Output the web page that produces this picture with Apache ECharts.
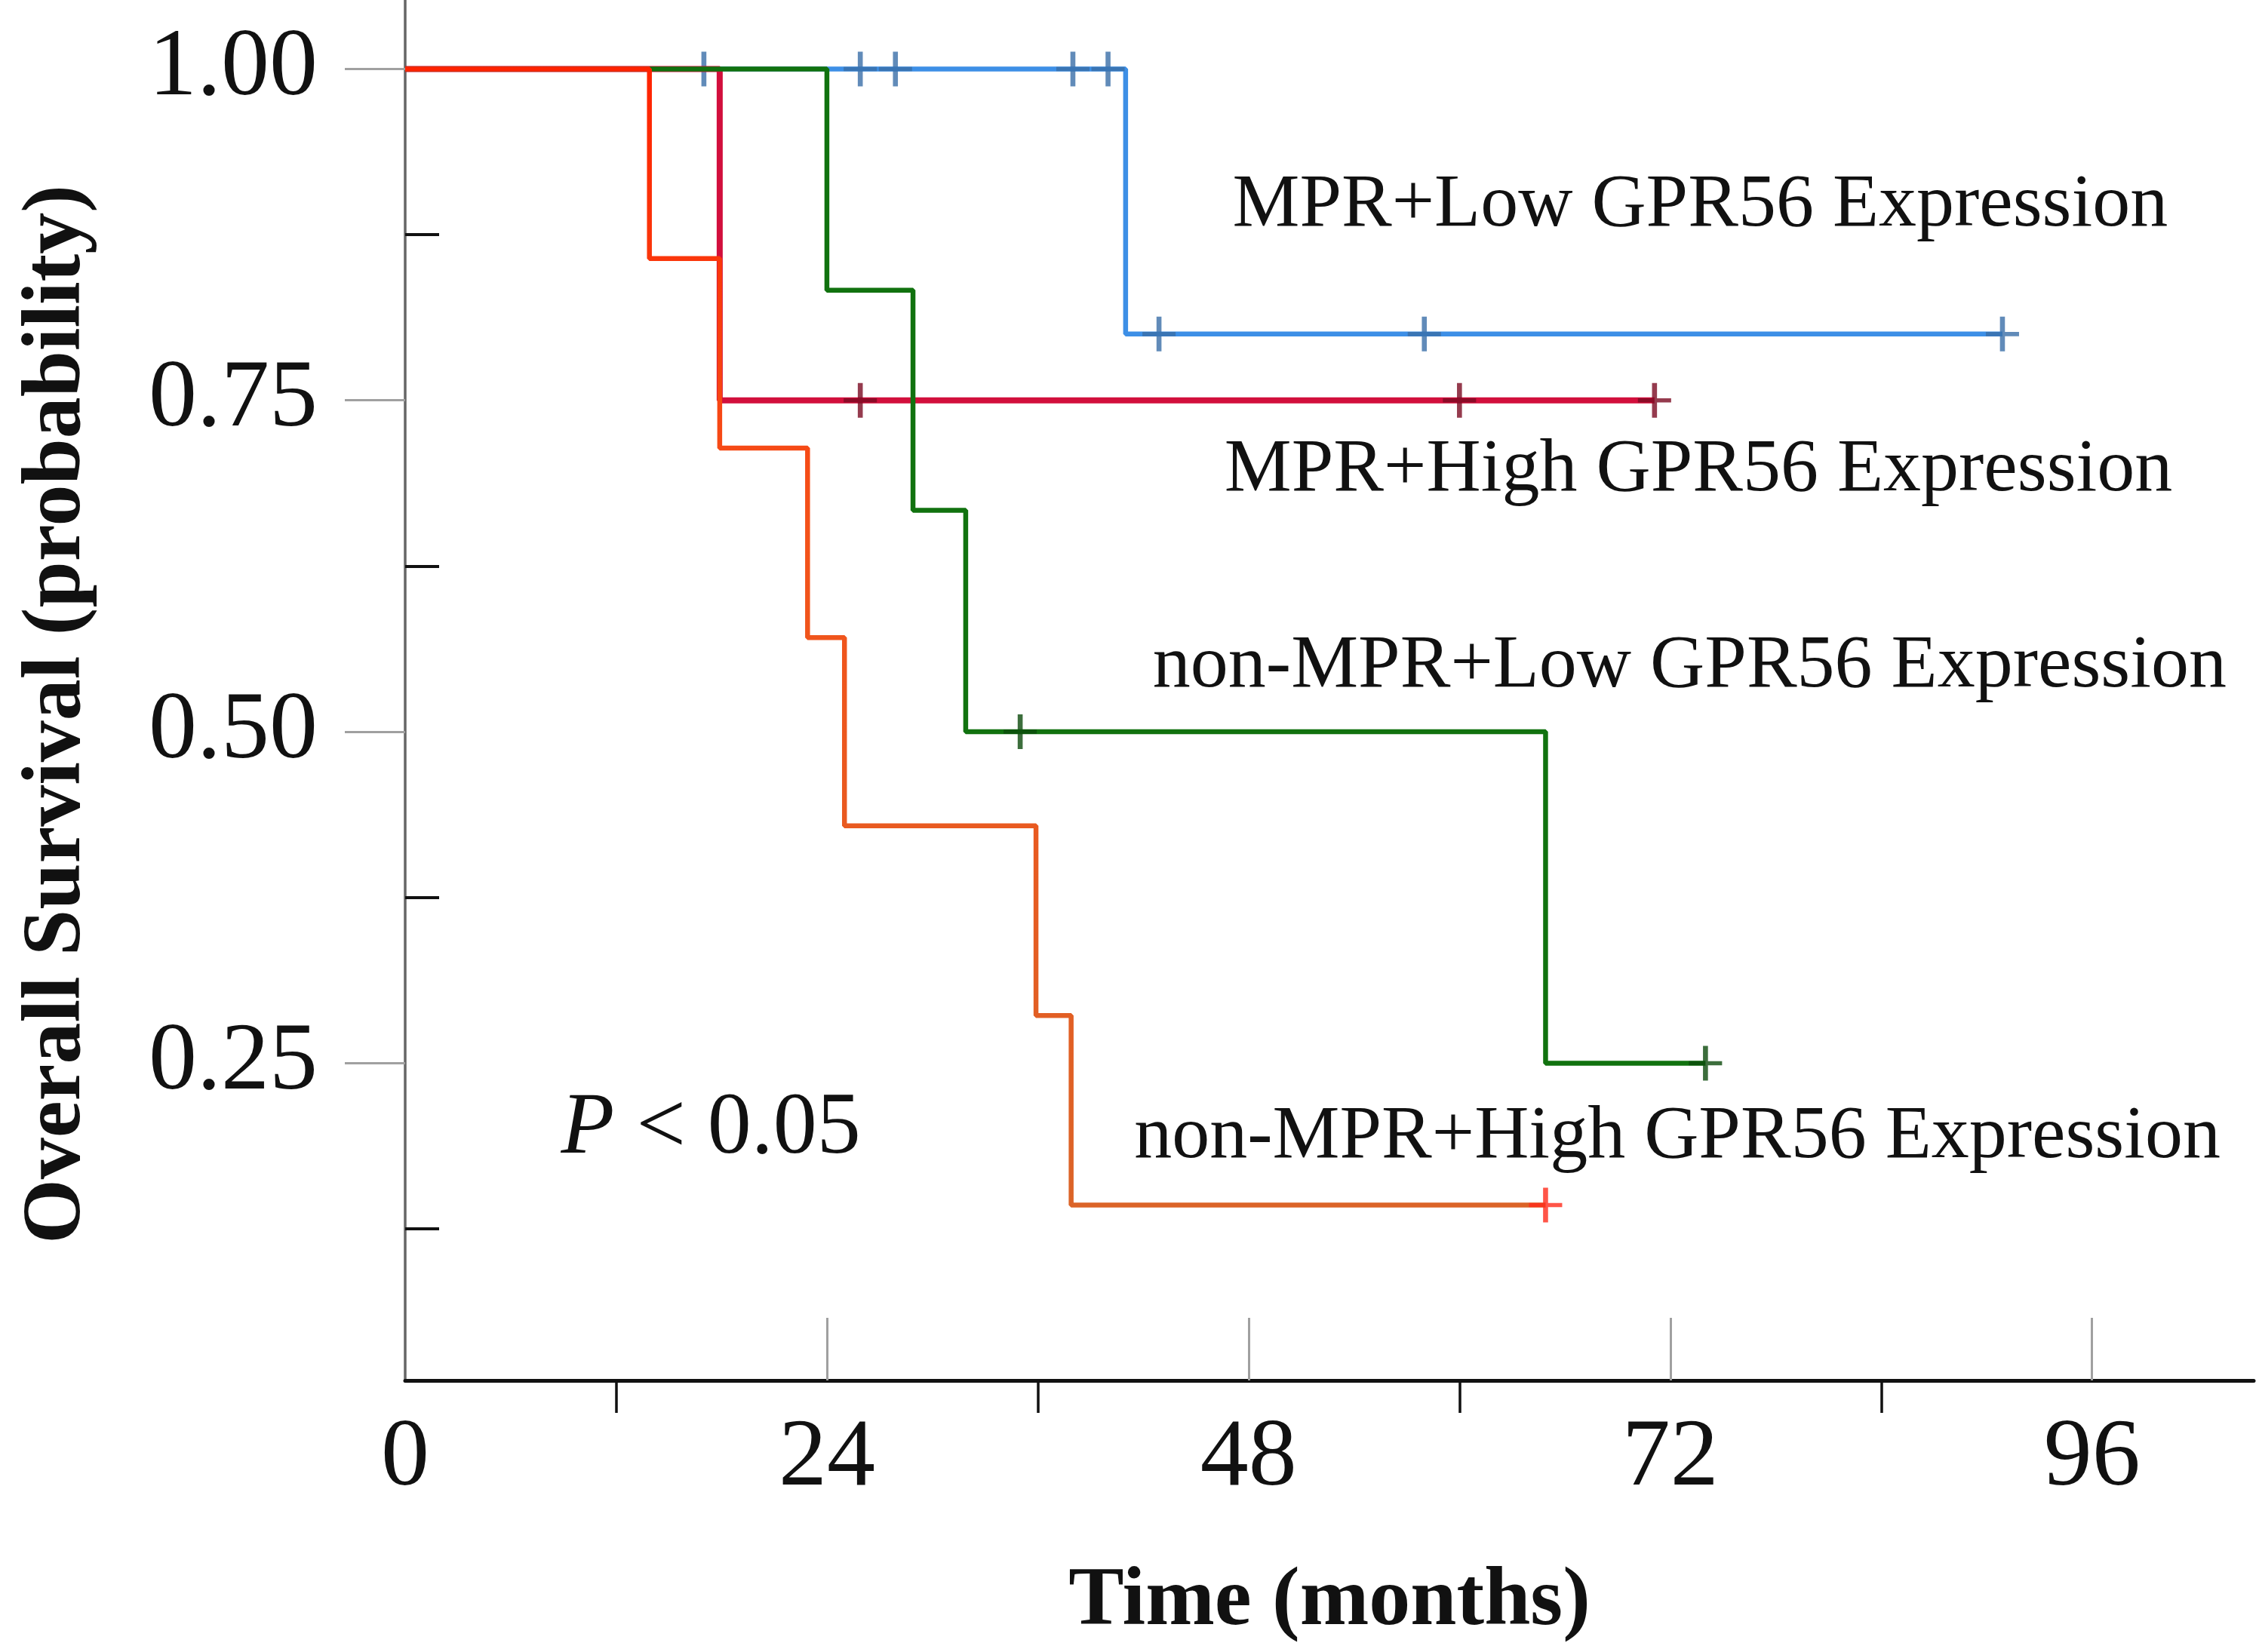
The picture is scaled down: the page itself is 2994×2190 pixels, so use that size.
<!DOCTYPE html>
<html lang="en">

<head>
    <meta charset="UTF-8">
    <title>Overall Survival</title>
    <script src="https://cdn.jsdelivr.net/npm/echarts@6.0.0/dist/echarts.min.js"></script>
    <style>
        html, body { margin: 0; padding: 0; background: #fff; }
        #viz { width: 2994px; height: 2190px; }
    </style>
</head>

<body>
    <div id="viz"></div>

    <script>
        // Kaplan-Meier curves (months / survival probability)
        const groupNames = [
            'MPR+Low GPR56 Expression',
            'MPR+High GPR56 Expression',
            'non-MPR+Low GPR56 Expression',
            'non-MPR+High GPR56 Expression'
        ];

        const lowMprDrops = [41.0];
        const lowMprSurv = [1.0, 0.80];
        const lowMprCensor = [17.0, 25.9, 27.9, 38.0, 40.0, 42.9, 58.0, 90.9];

        const highMprDrops = [17.9];
        const highMprSurv = [1.0, 0.75];
        const highMprCensor = [25.9, 60.0, 71.1];

        const lowNonDrops = [24.0, 28.9, 31.9, 64.9];
        const lowNonSurv = [1.0, 0.833, 0.667, 0.50, 0.25];
        const lowNonCensor = [35.0, 74.0];

        const highNonDrops = [13.9, 17.9, 22.9, 25.0, 35.9, 37.9];
        const highNonSurv = [1.0, 0.857, 0.714, 0.571, 0.429, 0.286, 0.143];
        const highNonCensor = [64.9];

        const xLabelValues = [0, 24, 48, 72, 96];
        const xMinorTicks = [12, 36, 60, 84];
        const yLabelValues = [0.25, 0.50, 0.75, 1.00];
        const yMinorTicks = [0.125, 0.375, 0.625, 0.875];

        const pText = 'P < 0.05';

        const getEle = id => document.getElementById(id);
        const serif = '"Liberation Serif", "Times New Roman", serif';

        const survAt = (drops, surv, t) => {
            let s = surv[0];
            drops.forEach((d, i) => { if (t >= d) s = surv[i + 1]; });
            return s;
        };

        // step polyline: horizontal then vertical at each event
        const stepPoints = (drops, surv, censor) => {
            const pts = [[0, surv[0]]];
            drops.forEach((d, i) => {
                pts.push([d, surv[i]]);
                pts.push([d, surv[i + 1]]);
            });
            const end = Math.max(censor[censor.length - 1], drops[drops.length - 1]);
            pts.push([end, surv[surv.length - 1]]);
            return pts;
        };

        const censorPoints = (drops, surv, censor) => censor.map(t => [t, survAt(drops, surv, t)]);

        const plus = 'path://M8.5,0 H11.5 V8.8 H20 V11.2 H11.5 V20 H8.5 V11.2 H0 V8.8 H8.5 Z';

        const groups = [
            { drops: lowMprDrops, surv: lowMprSurv, censor: lowMprCensor, color: '#3d8fe6', mark: '#3a6ea8', width: 6.5 },
            { drops: highMprDrops, surv: highMprSurv, censor: highMprCensor, color: '#d20f3c', mark: '#7a0a22', width: 8 },
            { drops: lowNonDrops, surv: lowNonSurv, censor: lowNonCensor, color: '#11720f', mark: '#0b4a0b', width: 6.5 },
            {
                drops: highNonDrops, surv: highNonSurv, censor: highNonCensor,
                color: new echarts.graphic.LinearGradient(0, 0, 0, 1, [
                    { offset: 0, color: '#ff2200' },
                    { offset: 0.4, color: '#f4521a' },
                    { offset: 1, color: '#db6428' }
                ]),
                mark: '#ff2a1a', width: 6.5
            }
        ];

        const series = [];
        groups.forEach((g, i) => {
            series.push({
                name: groupNames[i],
                type: 'line',
                data: stepPoints(g.drops, g.surv, g.censor),
                showSymbol: false,
                symbol: 'none',
                z: 2 + i,
                lineStyle: { color: g.color, width: g.width },
                animation: false
            });
            series.push({
                name: groupNames[i] + ' censored',
                type: 'scatter',
                data: censorPoints(g.drops, g.surv, g.censor),
                symbol: plus,
                symbolSize: [44, 46],
                z: 2 + i,
                itemStyle: { color: g.mark },
                animation: false
            });
        });

        const yRange = { min: 0.0107, max: 1.052 };
        const xRange = { min: 0, max: 105.2 };

        const option = {
            backgroundColor: '#fff',
            grid: { left: 537, right: 7, top: 0, bottom: 360 },
            xAxis: [
                {
                    type: 'value', ...xRange, position: 'bottom',
                    axisLine: { show: true, onZero: false, lineStyle: { color: '#111', width: 5 } },
                    axisTick: { show: true, inside: true, length: 83, customValues: xLabelValues.slice(1), lineStyle: { color: '#a0a0a0', width: 3 } },
                    axisLabel: { show: true, customValues: xLabelValues, margin: 40, fontFamily: serif, fontSize: 128, color: '#111' },
                    splitLine: { show: false },
                    name: 'Time (months)', nameLocation: 'middle', nameGap: 240,
                    nameTextStyle: { fontFamily: serif, fontSize: 110, fontWeight: 'bold', color: '#111' }
                },
                {
                    type: 'value', ...xRange, position: 'bottom', offset: 0,
                    axisLine: { show: false, onZero: false },
                    axisTick: { show: true, inside: false, length: 43, customValues: xMinorTicks, lineStyle: { color: '#111', width: 3.5 } },
                    axisLabel: { show: false },
                    splitLine: { show: false }
                }
            ],
            yAxis: [
                {
                    type: 'value', ...yRange, position: 'left',
                    axisLine: { show: true, onZero: false, lineStyle: { color: '#666', width: 3.5 } },
                    axisTick: { show: true, inside: false, length: 80, customValues: yLabelValues, lineStyle: { color: '#a0a0a0', width: 3 } },
                    axisLabel: {
                        show: true, customValues: yLabelValues, margin: 116,
                        formatter: v => v.toFixed(2),
                        fontFamily: serif, fontSize: 128, color: '#111'
                    },
                    splitLine: { show: false },
                    name: 'Overall Survival (probability)', nameLocation: 'middle', nameGap: 405,
                    nameTextStyle: { fontFamily: serif, fontSize: 110, fontWeight: 'bold', color: '#111', padding: [0, 64, 0, 0] }
                },
                {
                    type: 'value', ...yRange, position: 'left', offset: 0,
                    axisLine: { show: false, onZero: false },
                    axisTick: { show: true, inside: true, length: 45, customValues: yMinorTicks, lineStyle: { color: '#111', width: 4 } },
                    axisLabel: { show: false },
                    splitLine: { show: false }
                }
            ],
            series: series
        };

        const chart = echarts.init(getEle('viz'), null, { renderer: 'canvas' });
        chart.setOption(option);

        // annotations anchored in data coordinates
        const notes = [
            { text: groupNames[0], at: [73.7, 0.897] },
            { text: groupNames[1], at: [73.6, 0.697] },
            { text: groupNames[2], at: [73.1, 0.549] },
            { text: groupNames[3], at: [72.4, 0.194] }
        ];

        const graphic = notes.map(n => {
            const p = chart.convertToPixel({ xAxisIndex: 0, yAxisIndex: 0 }, n.at);
            return {
                type: 'text', x: p[0], y: p[1], z: 20,
                style: {
                    text: n.text, fill: '#111', align: 'center', verticalAlign: 'middle',
                    font: '100px ' + serif
                }
            };
        });

        const pp = chart.convertToPixel({ xAxisIndex: 0, yAxisIndex: 0 }, [17.4, 0.20]);
        graphic.push({
            type: 'text', x: pp[0], y: pp[1], z: 20,
            style: {
                text: '{i|P}' + pText.slice(1), fill: '#111', align: 'center', verticalAlign: 'middle',
                fontFamily: serif, fontSize: 116,
                rich: { i: { fontFamily: serif, fontSize: 116, fontStyle: 'italic', fill: '#111' } }
            }
        });

        chart.setOption({ graphic: graphic });
        window.onresize = () => chart.resize();
    </script>
</body>

</html>
